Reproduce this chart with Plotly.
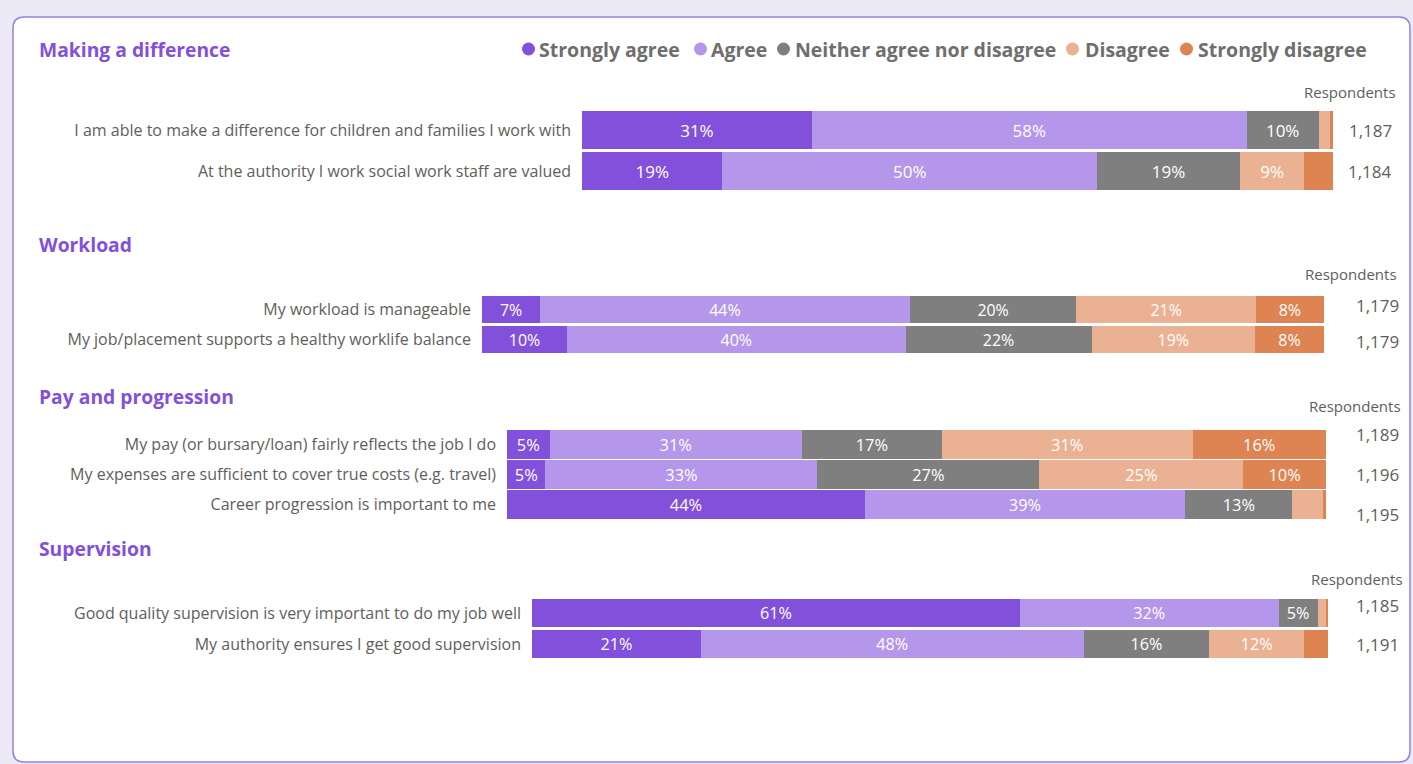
import plotly.graph_objects as go

W, H = 1413, 764

# Response scale and colours
levels = ["Strongly agree", "Agree", "Neither agree nor disagree", "Disagree", "Strongly disagree"]
level_colors = ["#8350DC", "#B497EA", "#7F7F7F", "#EBB193", "#DE8352"]

# Making a difference
making_title = "Making a difference"
making_questions = [
    "I am able to make a difference for children and families I work with",
    "At the authority I work social work staff are valued",
]
making_shares = [
    [30.6, 57.9, 9.6, 1.5, 0.4],
    [18.7, 49.9, 19.0, 8.6, 3.8],
]
making_respondents = [1187, 1184]

# Workload
workload_title = "Workload"
workload_questions = [
    "My workload is manageable",
    "My job/placement supports a healthy worklife balance",
]
workload_shares = [
    [6.9, 43.9, 19.8, 21.3, 8.1],
    [10.1, 40.2, 22.1, 19.4, 8.2],
]
workload_respondents = [1179, 1179]

# Pay and progression
pay_title = "Pay and progression"
pay_questions = [
    "My pay (or bursary/loan) fairly reflects the job I do",
    "My expenses are sufficient to cover true costs (e.g. travel)",
    "Career progression is important to me",
]
pay_shares = [
    [5.2, 30.8, 17.1, 30.6, 16.3],
    [4.7, 33.2, 27.1, 24.9, 10.1],
    [43.7, 39.1, 13.1, 3.7, 0.4],
]
pay_respondents = [1189, 1196, 1195]

# Supervision
supervision_title = "Supervision"
supervision_questions = [
    "Good quality supervision is very important to do my job well",
    "My authority ensures I get good supervision",
]
supervision_shares = [
    [61.3, 32.5, 4.9, 1.0, 0.3],
    [21.2, 48.1, 15.8, 11.9, 3.0],
]
supervision_respondents = [1185, 1191]

sections = [
    (making_title, making_questions, making_shares, making_respondents),
    (workload_title, workload_questions, workload_shares, workload_respondents),
    (pay_title, pay_questions, pay_shares, pay_respondents),
    (supervision_title, supervision_questions, supervision_shares, supervision_respondents),
]

# Layout of each block, in pixels: bar x-extent, bar y-extent, bar thickness,
# title y, respondents header (y, right edge), counts (first y, step, right edge)
geometry = [
    dict(x0=582, x1=1333, y0=109.5, y1=191.5, width=0.93, title_y=49,
         head_y=92, head_r=1398, cnt_y=130, cnt_step=41, cnt_r=1394),
    dict(x0=482, x1=1324, y0=294.5, y1=354.5, width=0.92, title_y=244,
         head_y=274, head_r=1399, cnt_y=305, cnt_step=36, cnt_r=1401),
    dict(x0=507, x1=1326, y0=429.5, y1=519.5, width=0.94, title_y=396,
         head_y=406, head_r=1403, cnt_y=435, cnt_step=39.5, cnt_r=1401),
    dict(x0=532, x1=1328, y0=597.5, y1=659.5, width=0.90, title_y=548,
         head_y=579, head_r=1405, cnt_y=605, cnt_step=39, cnt_r=1401),
]

# Legend entries: dot left edge and label left edge, in pixels
legend_dot_x = [522, 694, 777, 1066, 1180]
legend_text_x = [537, 709, 793, 1083, 1196]
LEGEND_Y = 49
DOT_D = 13

FONT = "Open Sans"
LABEL_GRAY = "#605E5C"


def px(x):
    return x / W


def py(y):
    return 1 - y / H


fig = go.Figure()
layout_axes = {}
annotations = []
shapes = []

# Rounded white card behind the charts
r = 11
L, T, R, B = 13, 17, 1410, 762
card = (
    f"M {px(L + r)},{py(T)} L {px(R - r)},{py(T)} "
    f"Q {px(R)},{py(T)} {px(R)},{py(T + r)} "
    f"L {px(R)},{py(B - r)} Q {px(R)},{py(B)} {px(R - r)},{py(B)} "
    f"L {px(L + r)},{py(B)} Q {px(L)},{py(B)} {px(L)},{py(B - r)} "
    f"L {px(L)},{py(T + r)} Q {px(L)},{py(T)} {px(L + r)},{py(T)} Z"
)
shapes.append(dict(type="path", path=card, xref="paper", yref="paper",
                   fillcolor="white", line=dict(color="#9B7FE6", width=1.5),
                   layer="below"))

for i, ((title, questions, shares, resp), g) in enumerate(zip(sections, geometry), start=1):
    xa = "x" if i == 1 else f"x{i}"
    ya = "y" if i == 1 else f"y{i}"
    for j, (lvl, col) in enumerate(zip(levels, level_colors)):
        vals = [row[j] for row in shares]
        txt = [f"{round(v)}%" if v >= 4.5 else "" for v in vals]
        fig.add_trace(go.Bar(
            orientation="h",
            y=questions,
            x=vals,
            name=lvl,
            marker=dict(color=col, line=dict(width=0)),
            width=g["width"],
            text=txt,
            textposition="inside",
            insidetextanchor="middle",
            textangle=0,
            textfont=dict(color="white", size=17, family=FONT),
            hovertemplate="%{y}<br>" + lvl + ": %{x:.1f}%<extra></extra>",
            xaxis=xa,
            yaxis=ya,
            showlegend=False,
        ))
    xkey = "xaxis" if i == 1 else f"xaxis{i}"
    ykey = "yaxis" if i == 1 else f"yaxis{i}"
    layout_axes[xkey] = dict(
        domain=[px(g["x0"]), px(g["x1"])], range=[0, 100], visible=False,
        anchor=ya, fixedrange=True,
    )
    layout_axes[ykey] = dict(
        domain=[py(g["y1"]), py(g["y0"])], anchor=xa, type="category",
        categoryorder="array", categoryarray=questions, autorange="reversed",
        showgrid=False, zeroline=False, showline=False, ticks="",
        ticklabelstandoff=10,
        tickfont=dict(family=FONT, size=16, color=LABEL_GRAY), fixedrange=True,
    )
    # Section heading
    annotations.append(dict(
        x=px(37), y=py(g["title_y"]), xref="paper", yref="paper",
        xanchor="left", yanchor="middle", showarrow=False,
        text=f"<b>{title}</b>", font=dict(family=FONT, size=19.3, color="#8350DC"),
    ))
    # Respondents column
    annotations.append(dict(
        x=px(g["head_r"]), y=py(g["head_y"]), xref="paper", yref="paper",
        xanchor="right", yanchor="middle", showarrow=False,
        text="Respondents", font=dict(family=FONT, size=15, color=LABEL_GRAY),
    ))
    for k, n in enumerate(resp):
        annotations.append(dict(
            x=px(g["cnt_r"]), y=py(g["cnt_y"] + k * g["cnt_step"]),
            xref="paper", yref="paper", xanchor="right", yanchor="middle",
            showarrow=False, text=f"{n:,}",
            font=dict(family=FONT, size=17, color=LABEL_GRAY),
        ))

# Legend row: coloured dots with bold labels
for lvl, col, dx, tx in zip(levels, level_colors, legend_dot_x, legend_text_x):
    shapes.append(dict(
        type="circle", xref="paper", yref="paper",
        x0=px(dx), x1=px(dx + DOT_D),
        y0=py(LEGEND_Y + DOT_D / 2), y1=py(LEGEND_Y - DOT_D / 2),
        fillcolor=col, line=dict(width=0),
    ))
    annotations.append(dict(
        x=px(tx), y=py(LEGEND_Y), xref="paper", yref="paper",
        xanchor="left", yanchor="middle", showarrow=False,
        text=f"<b>{lvl}</b>", font=dict(family=FONT, size=19.5, color="#6E6E6E"),
    ))

fig.update_layout(
    width=W, height=H,
    margin=dict(l=0, r=0, t=0, b=0),
    paper_bgcolor="#EDEAF8",
    plot_bgcolor="rgba(0,0,0,0)",
    barmode="stack",
    font=dict(family=FONT, color=LABEL_GRAY),
    annotations=annotations,
    shapes=shapes,
    **layout_axes,
)

fig.write_html("out.html")
